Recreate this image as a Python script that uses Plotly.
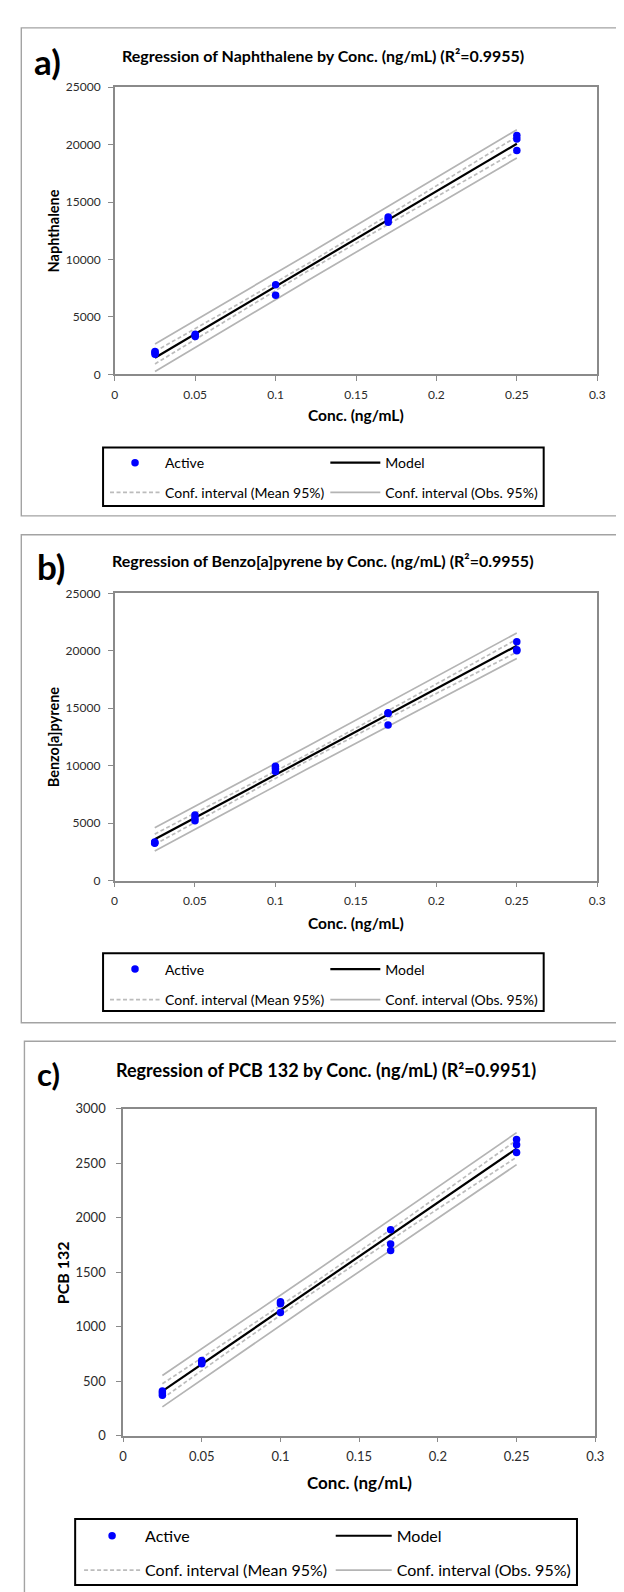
import plotly.graph_objects as go

W, H = 624, 1592

# ---------------- data ----------------
x_tick_vals = [0, 0.05, 0.1, 0.15, 0.2, 0.25, 0.3]
x_tick_text = ["0", "0.05", "0.1", "0.15", "0.2", "0.25", "0.3"]
y_ticks_big = [0, 5000, 10000, 15000, 20000, 25000]
y_ticks_pcb = [0, 500, 1000, 1500, 2000, 2500, 3000]

fit_x = [0.025, 0.25]
mean_ci_x = [0.025, 0.07, 0.12, 0.18, 0.25]
obs_ci_x = [0.025, 0.12, 0.25]

# a) Naphthalene
naph_conc = [0.025, 0.025, 0.025, 0.05, 0.05, 0.05, 0.1, 0.1, 0.17, 0.17, 0.17, 0.25, 0.25, 0.25]
naph_resp = [1750, 1900, 2000, 3300, 3400, 3500, 7800, 6900, 13250, 13500, 13700, 20800, 20500, 19500]
naph_model = [1450, 20080]
naph_mean_up = [1990, 5576, 9636, 14704, 20710]
naph_mean_lo = [910, 4776, 8996, 13864, 19450]
naph_obs_up = [2650, 10456, 21310]
naph_obs_lo = [250, 8176, 18850]

# b) Benzo[a]pyrene
bap_conc = [0.025, 0.025, 0.025, 0.05, 0.05, 0.05, 0.1, 0.1, 0.1, 0.17, 0.17, 0.17, 0.25, 0.25, 0.25]
bap_resp = [3250, 3300, 3350, 5700, 5450, 5200, 9950, 9750, 9500, 14600, 14550, 13550, 20800, 20100, 20000]
bap_model = [3590, 20450]
bap_mean_up = [4040, 7302, 10989, 15555, 21010]
bap_mean_lo = [3140, 6622, 10429, 14855, 19890]
bap_obs_up = [4600, 11689, 21560]
bap_obs_lo = [2580, 9729, 19340]

# c) PCB 132
pcb_conc = [0.025, 0.025, 0.025, 0.05, 0.05, 0.05, 0.1, 0.1, 0.1, 0.17, 0.17, 0.17, 0.25, 0.25, 0.25]
pcb_resp = [410, 390, 370, 690, 670, 660, 1230, 1210, 1130, 1890, 1760, 1700, 2720, 2670, 2600]
pcb_model = [408, 2635]
pcb_mean_up = [476, 903, 1388, 1992, 2713]
pcb_mean_lo = [340, 803, 1308, 1892, 2557]
pcb_obs_up = [552, 1486, 2782]
pcb_obs_lo = [264, 1210, 2488]

FONT = "Lato"


def px(x):
    return x / W


def py(y):
    return 1 - y / H


panels = [
    dict(key="", letter="a)", title="Regression of Naphthalene by Conc. (ng/mL) (R²=0.9955)",
         ytitle="Naphthalene", conc=naph_conc, resp=naph_resp, model=naph_model,
         mean_up=naph_mean_up, mean_lo=naph_mean_lo, obs_up=naph_obs_up, obs_lo=naph_obs_lo,
         yticks=y_ticks_big, yrange=[0, 25000],
         plot=(105, 597.7, 72, 362), frame=(9.5, 12, 660, 505),
         letter_pos=(36, 45, 35), title_pos=(318, 40, 16),
         xt_pos=(351.5, 403, 15.5), yt_pos=(42.5, 217, 14.5), tickfont=12, ystand=5,
         legbox=(93, 436, 543, 495), leg1=95, leg2=320, legtop=435.5, legfont=14,
         itemw=50, gap=8.5, legs=("legend", "legend2")),
    dict(key="2", letter="b)", title="Regression of Benzo[a]pyrene by Conc. (ng/mL) (R²=0.9955)",
         ytitle="Benzo[a]pyrene", conc=bap_conc, resp=bap_resp, model=bap_model,
         mean_up=bap_mean_up, mean_lo=bap_mean_lo, obs_up=bap_obs_up, obs_lo=bap_obs_lo,
         yticks=y_ticks_big, yrange=[0, 25000],
         plot=(104.7, 597.7, 583.3, 873.3), frame=(9.5, 524, 660, 1017),
         letter_pos=(40, 555.5, 35), title_pos=(318, 550, 16),
         xt_pos=(351.5, 916, 15.5), yt_pos=(42.5, 728, 14.5), tickfont=12, ystand=5,
         legbox=(93, 946.7, 543, 1005), leg1=95, leg2=320, legtop=947, legfont=14,
         itemw=50, gap=9.4, legs=("legend3", "legend4")),
    dict(key="3", letter="c)", title="Regression of PCB 132 by Conc. (ng/mL) (R²=0.9951)",
         ytitle="PCB 132", conc=pcb_conc, resp=pcb_resp, model=pcb_model,
         mean_up=pcb_mean_up, mean_lo=pcb_mean_lo, obs_up=pcb_obs_up, obs_lo=pcb_obs_lo,
         yticks=y_ticks_pcb, yrange=[0, 3000],
         plot=(113.4, 595.7, 1104, 1434), frame=(12.7, 1035.7, 660, 1620),
         letter_pos=(37.5, 1069, 31), title_pos=(321, 1065, 18),
         xt_pos=(354.5, 1481, 17), yt_pos=(51, 1269, 16), tickfont=13, ystand=8,
         legbox=(64.5, 1518.3, 577, 1585), leg1=68.5, leg2=325.5, legtop=1518.1, legfont=16,
         itemw=56, gap=10.5, legs=("legend5", "legend6")),
]

fig = go.Figure()
shapes = []
annotations = []
layout_axes = {}
legends = {}

for i, p in enumerate(panels):
    xa = "x" + p["key"]
    ya = "y" + p["key"]
    l1, l2 = p["legs"]
    grp = "g%d_" % i
    # Obs CI (solid gray)
    fig.add_trace(go.Scatter(x=obs_ci_x, y=p["obs_up"], mode="lines", xaxis=xa, yaxis=ya,
                             line=dict(color="#b4b4b4", width=1.7), name="Conf. interval (Obs. 95%)",
                             legend=l2, legendgroup=grp + "obs", legendrank=2, hoverinfo="skip"))
    fig.add_trace(go.Scatter(x=obs_ci_x, y=p["obs_lo"], mode="lines", xaxis=xa, yaxis=ya,
                             line=dict(color="#b4b4b4", width=1.7), name="Conf. interval (Obs. 95%)",
                             legend=l2, legendgroup=grp + "obs", showlegend=False, hoverinfo="skip"))
    # Mean CI (dashed gray)
    fig.add_trace(go.Scatter(x=mean_ci_x, y=p["mean_up"], mode="lines", xaxis=xa, yaxis=ya,
                             line=dict(color="#bcbcbc", width=1.7, dash="4px,2.5px"),
                             name="Conf. interval (Mean 95%)",
                             legend=l1, legendgroup=grp + "mean", legendrank=2, hoverinfo="skip"))
    fig.add_trace(go.Scatter(x=mean_ci_x, y=p["mean_lo"], mode="lines", xaxis=xa, yaxis=ya,
                             line=dict(color="#bcbcbc", width=1.7, dash="4px,2.5px"),
                             name="Conf. interval (Mean 95%)",
                             legend=l1, legendgroup=grp + "mean", showlegend=False, hoverinfo="skip"))
    # Model
    fig.add_trace(go.Scatter(x=fit_x, y=p["model"], mode="lines", xaxis=xa, yaxis=ya,
                             line=dict(color="#000000", width=2.2), name="Model",
                             legend=l2, legendgroup=grp + "model", legendrank=1))
    # Active points
    fig.add_trace(go.Scatter(x=p["conc"], y=p["resp"], mode="markers", xaxis=xa, yaxis=ya,
                             marker=dict(color="#0000ff", size=7.5), name="Active",
                             legend=l1, legendgroup=grp + "act", legendrank=1))

    x0, x1, y0, y1 = p["plot"]
    tick_font = dict(family=FONT, size=p["tickfont"], color="#2b2b2b")
    layout_axes["xaxis" + p["key"]] = dict(
        domain=[px(x0), px(x1)], anchor=ya, range=[0, 0.3],
        tickvals=x_tick_vals, ticktext=x_tick_text, ticks="outside", ticklen=5,
        tickcolor="#8a8a8a", tickwidth=1.3, showline=True, linecolor="#8a8a8a", linewidth=1.5,
        mirror=True, showgrid=False, zeroline=False, tickfont=tick_font, ticklabelstandoff=3,
        fixedrange=True)
    layout_axes["yaxis" + p["key"]] = dict(
        domain=[py(y1), py(y0)], anchor=xa, range=p["yrange"],
        tickvals=p["yticks"], ticktext=[str(v) for v in p["yticks"]], ticks="outside", ticklen=5,
        tickcolor="#8a8a8a", tickwidth=1.3, showline=True, linecolor="#8a8a8a", linewidth=1.5,
        mirror=True, showgrid=False, zeroline=False, tickfont=tick_font,
        ticklabelstandoff=p["ystand"], fixedrange=True)

    # panel frame
    fx0, fy0, fx1, fy1 = p["frame"]
    shapes.append(dict(type="rect", xref="paper", yref="paper", x0=px(fx0), x1=px(fx1),
                       y0=py(fy1), y1=py(fy0), line=dict(color="#a3a3a3", width=1.4), layer="below"))
    # legend box
    bx0, by0, bx1, by1 = p["legbox"]
    shapes.append(dict(type="rect", xref="paper", yref="paper", x0=px(bx0), x1=px(bx1),
                       y0=py(by1), y1=py(by0), line=dict(color="#000000", width=2), layer="below"))

    # texts
    lx, ly, ls = p["letter_pos"]
    annotations.append(dict(text="<b>" + p["letter"] + "</b>", x=px(lx), y=py(ly), xref="paper",
                            yref="paper", showarrow=False, xanchor="center", yanchor="middle",
                            font=dict(family=FONT, size=ls, color="#000000")))
    tx, ty, ts = p["title_pos"]
    annotations.append(dict(text="<b>" + p["title"] + "</b>", x=px(tx), y=py(ty), xref="paper",
                            yref="paper", showarrow=False, xanchor="center", yanchor="middle",
                            font=dict(family=FONT, size=ts, color="#000000")))
    ax, ay, asz = p["xt_pos"]
    annotations.append(dict(text="<b>Conc. (ng/mL)</b>", x=px(ax), y=py(ay), xref="paper",
                            yref="paper", showarrow=False, xanchor="center", yanchor="middle",
                            font=dict(family=FONT, size=asz, color="#000000")))
    vx, vy, vs = p["yt_pos"]
    annotations.append(dict(text="<b>" + p["ytitle"] + "</b>", x=px(vx), y=py(vy), xref="paper",
                            yref="paper", showarrow=False, xanchor="center", yanchor="middle",
                            textangle=-90, font=dict(family=FONT, size=vs, color="#000000")))

    leg_common = dict(orientation="v", xanchor="left", yanchor="top", y=py(p["legtop"]),
                      bgcolor="rgba(0,0,0,0)", borderwidth=0, itemwidth=p["itemw"],
                      traceorder="grouped", tracegroupgap=p["gap"],
                      font=dict(family=FONT, size=p["legfont"], color="#000000"),
                      itemclick=False, itemdoubleclick=False)
    legends[l1] = dict(x=px(p["leg1"]), **leg_common)
    legends[l2] = dict(x=px(p["leg2"]), **leg_common)

fig.update_layout(
    width=W, height=H, margin=dict(l=0, r=0, t=0, b=0),
    paper_bgcolor="#ffffff", plot_bgcolor="#ffffff",
    font=dict(family=FONT, color="#000000"),
    shapes=shapes, annotations=annotations, hovermode="closest",
    **layout_axes, **legends,
)

fig.write_html("out.html", config={"displayModeBar": False})
